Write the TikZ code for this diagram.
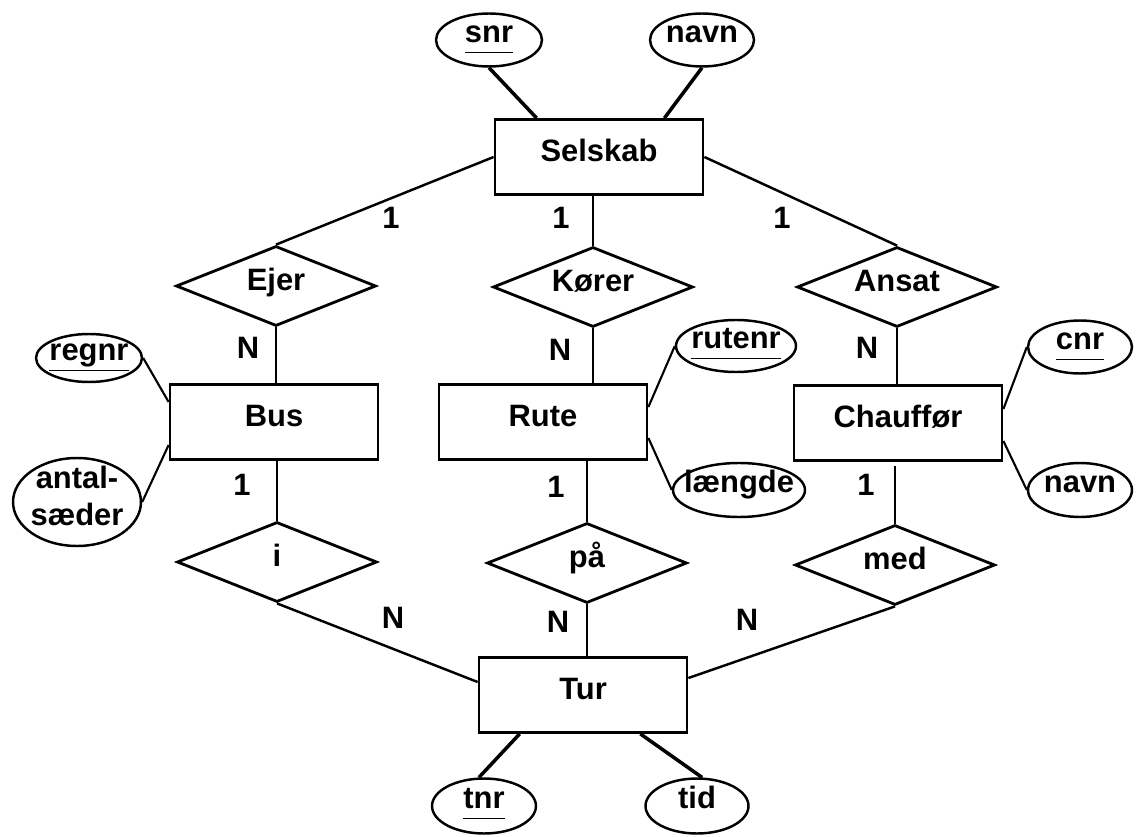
\documentclass[tikz,border=0pt]{standalone}
\usepackage{fontspec}
\setmainfont{Liberation Sans}
\usetikzlibrary{shapes.geometric}

\newsavebox{\keybox}
\newcommand{\keyattr}[1]{\sbox{\keybox}{#1}\rlap{\rule[-6pt]{\wd\keybox}{1pt}}\usebox{\keybox}}

\tikzset{
  entity/.style={draw, line width=1.6pt, rectangle, minimum width=4.16cm, minimum height=1.5cm, inner sep=0pt},
  relship/.style={draw, line width=1.6pt, diamond, aspect=2.5, minimum width=4cm, minimum height=1.6cm, inner sep=0pt},
  attr/.style={draw, line width=1.4pt, ellipse, inner xsep=-0.19cm, inner ysep=-2pt, text depth=9pt},
  card/.style={inner sep=0pt},
  conn/.style={line width=1.4pt},
  attrline/.style={line width=1.2pt},
  keyline/.style={line width=2pt},
}

\begin{document}
\begin{tikzpicture}[x=0.02cm, y=-0.02cm,
    font=\fontsize{17.6}{21}\selectfont\bfseries,
    text height=12.3pt, text depth=7pt]
    \useasboundingbox (0,0) rectangle (1145,837);

    % entities
    \node[entity] (selskab) at (599,157) {Selskab};
    \node[entity] (bus) at (274,422) {Bus};
    \node[entity] (rute) at (543,422) {Rute};
    \node[entity] (chauffoer) at (898,423) {Chauffør};
    \node[entity] (tur) at (583,695) {Tur};

    % relationships
    \node[relship] (ejer) at (276,286) {Ejer};
    \node[relship] (koerer) at (593,287) {Kører};
    \node[relship] (ansat) at (897,287) {Ansat};
    \node[relship] (i) at (277,562) {i};
    \node[relship] (paa) at (587,563) {på};
    \node[relship] (med) at (895,565) {med};

    % attributes
    \node[attr, minimum width=2.12cm, minimum height=1.06cm] (snr) at (489,40) {\keyattr{snr}};
    \node[attr, minimum width=2.08cm, minimum height=1.06cm] (navn) at (702,40) {navn};
    \node[attr, minimum width=2.12cm, minimum height=0.96cm] (regnr) at (89,358) {\keyattr{regnr}};
    \node[attr, minimum width=2.56cm, minimum height=1.76cm,
          text depth=28pt, inner ysep=-0.09cm] (antal) at (77,502)
          {\begin{tabular}[t]{@{}c@{}}antal-\\sæder\end{tabular}};
    \node[attr, minimum width=2.4cm, minimum height=1.04cm] (rutenr) at (736,346) {\keyattr{rutenr}};
    \node[attr, minimum width=2.64cm, minimum height=1.08cm] (laengde) at (739,490) {længde};
    \node[attr, minimum width=2.08cm, minimum height=1.06cm] (cnr) at (1080,347) {\keyattr{cnr}};
    \node[attr, minimum width=2.08cm, minimum height=1.08cm] (navnc) at (1080,490) {navn};
    \node[attr, minimum width=2.08cm, minimum height=1.1cm] (tnr) at (484,806) {\keyattr{tnr}};
    \node[attr, minimum width=2.06cm, minimum height=1.1cm] (tid) at (697,806) {tid};

    % cardinalities
    \node[card] (c1) at (391,224) {1};
    \node[card] (c2) at (561,224) {1};
    \node[card] (c3) at (782,224) {1};
    \node[card] (c4) at (248,354) {N};
    \node[card] (c5) at (560,356) {N};
    \node[card] (c6) at (867,354) {N};
    \node[card] (c7) at (242,491) {1};
    \node[card] (c8) at (556,493) {1};
    \node[card] (c9) at (866,491) {1};
    \node[card] (c10) at (393,624) {N};
    \node[card] (c11) at (558,628) {N};
    \node[card] (c12) at (747,626) {N};

    % connectors
    \draw[keyline] (snr.south) -- ([xshift=0.86cm]selskab.north west);
    \draw[keyline] (navn.south) -- ([xshift=-0.8cm]selskab.north east);
    \draw[conn] (selskab.west) -- (ejer.north);
    \draw[conn] (koerer.north |- selskab.south) -- (koerer.north);
    \draw[conn] (selskab.east) -- (ansat.north);
    \draw[conn] (ejer.south) -- (ejer.south |- bus.north);
    \draw[conn] (koerer.south) -- (koerer.south |- rute.north);
    \draw[conn] (ansat.south) -- (ansat.south |- chauffoer.north);
    \draw[conn] (i.north |- bus.south) -- (i.north);
    \draw[conn] (paa.north |- rute.south) -- (paa.north);
    \draw[conn, shorten <=2.2pt] (med.north |- chauffoer.south) -- (med.north);
    \draw[conn] (i.south) -- ([yshift=0.26cm]tur.west);
    \draw[conn] (paa.south) -- (paa.south |- tur.north);
    \draw[conn] (med.south) -- ([yshift=0.34cm]tur.east);
    \draw[keyline] ([xshift=0.84cm]tur.south west) -- (tnr.100);
    \draw[keyline] ([xshift=-0.96cm]tur.south east) -- (tid.80);

    \draw[attrline] (regnr.east) -- ([yshift=0.4cm]bus.west);
    \draw[attrline] (antal.east) -- ([yshift=-0.46cm]bus.west);
    \draw[attrline] (rutenr.west) -- ([yshift=0.3cm]rute.east);
    \draw[attrline] (laengde.west) -- ([yshift=-0.32cm]rute.east);
    \draw[attrline] (cnr.west) -- ([yshift=0.28cm]chauffoer.east);
    \draw[attrline] (navnc.west) -- ([yshift=-0.36cm]chauffoer.east);
\end{tikzpicture}
\end{document}
